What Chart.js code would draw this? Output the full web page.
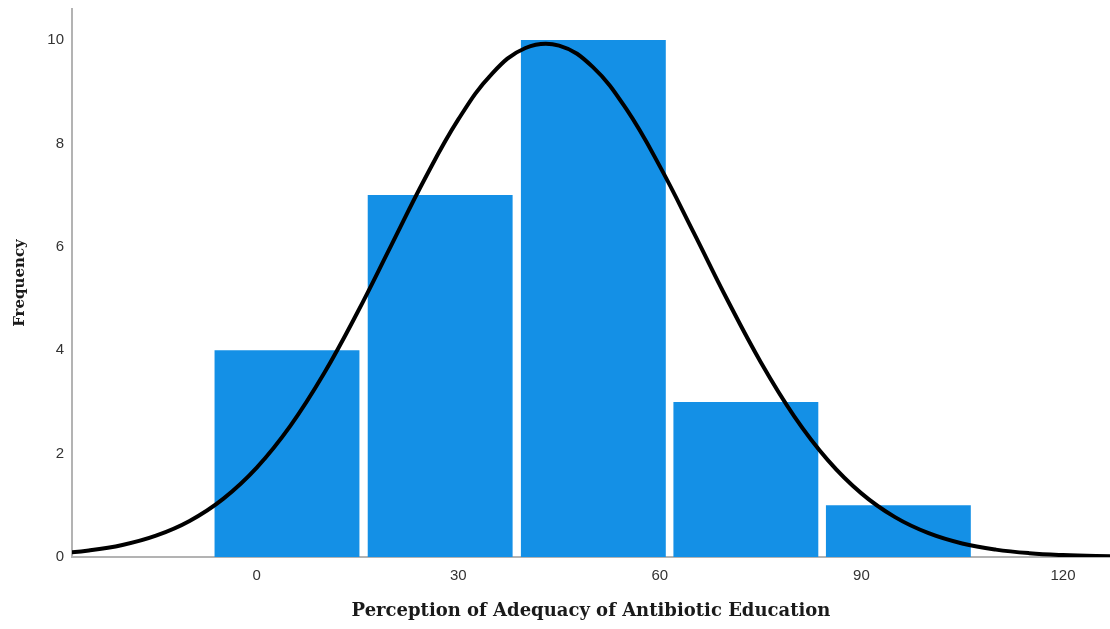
<!DOCTYPE html>
<html>
<head>
<meta charset="utf-8">
<script src="https://cdn.jsdelivr.net/npm/chart.js@4/dist/chart.umd.min.js"></script>
<style>
html,body{margin:0;padding:0;background:#fff;}
#wrap{width:1110px;height:629px;position:relative;}
</style>
</head>
<body>
<div id="wrap"><canvas id="c"></canvas></div>
<script>
// Histogram bins (centres) and counts
const binCenters = [4.5, 27.3, 50.1, 72.8, 95.5];
const frequencies = [4, 7, 10, 3, 1];

// Normal curve
const curveX = [-30, -25, -20, -15, -10, -5, 0, 5, 10, 15, 20, 25, 30, 35, 40, 45, 50, 55, 60, 65, 70, 75, 80, 85, 90, 95, 100, 105, 110, 115, 120, 125, 130];
const curveY = [0.064, 0.126, 0.233, 0.413, 0.698, 1.125, 1.729, 2.536, 3.548, 4.734, 6.023, 7.311, 8.464, 9.347, 9.846, 9.893, 9.480, 8.666, 7.556, 6.285, 4.986, 3.773, 2.722, 1.875, 1.231, 0.771, 0.461, 0.262, 0.143, 0.074, 0.037, 0.017, 0.008];

// Tick labels
const xTicks = [0, 30, 60, 90, 120];
const yTicks = [0, 2, 4, 6, 8, 10];

const xTitle = 'Perception of Adequacy of Antibiotic Education';
const yTitle = 'Frequency';

const barData = binCenters.map((x, i) => ({x: x, y: frequencies[i]}));
const curveData = curveX.map((x, i) => ({x: x, y: curveY[i]}));

new Chart(document.getElementById('c'), {
  type: 'bar',
  data: {
    datasets: [
      {
        type: 'line',
        data: curveData,
        borderColor: '#000000',
        borderWidth: 4,
        pointRadius: 0,
        fill: false,
        tension: 0.4,
        order: 0
      },
      {
        type: 'bar',
        data: barData,
        backgroundColor: '#1490e6',
        borderWidth: 0,
        barPercentage: 0.95,
        categoryPercentage: 1.0,
        order: 1
      }
    ]
  },
  options: {
    responsive: true,
    maintainAspectRatio: false,
    animation: false,
    devicePixelRatio: 1,
    events: [],
    layout: {padding: {left: 0, right: 0, top: 9, bottom: 0}},
    plugins: {legend: {display: false}, tooltip: {enabled: false}},
    scales: {
      x: {
        type: 'linear',
        min: -27.5,
        max: 127,
        offset: false,
        grid: {display: false, drawTicks: false},
        border: {display: true, color: '#b3b3b3', width: 2},
        afterBuildTicks: s => { s.ticks = xTicks.map(v => ({value: v})); },
        afterFit: s => { s.height = 72; s.paddingLeft = 0; s.paddingRight = 0; },
        ticks: {
          autoSkip: false,
          maxRotation: 0,
          padding: 10,
          color: '#333333',
          font: {family: 'Liberation Sans', size: 15},
          callback: v => String(v)
        },
        title: {
          display: true,
          text: xTitle,
          color: '#1a1a1a',
          font: {family: 'DejaVu Serif', size: 18, weight: 'bold'},
          padding: {top: 0, bottom: 7}
        }
      },
      y: {
        type: 'linear',
        min: 0,
        max: 10.6,
        grid: {display: false, drawTicks: false},
        border: {display: true, color: '#b3b3b3', width: 2},
        afterBuildTicks: s => { s.ticks = yTicks.map(v => ({value: v})); },
        afterFit: s => { s.width = 72; s.paddingTop = 0; s.paddingBottom = 0; },
        ticks: {
          padding: 8,
          color: '#333333',
          font: {family: 'Liberation Sans', size: 15},
          callback: v => String(v)
        },
        title: {
          display: true,
          text: yTitle,
          color: '#1a1a1a',
          font: {family: 'DejaVu Serif', size: 15, weight: 'bold'},
          padding: {top: 11, bottom: 0}
        }
      }
    }
  }
});
</script>
</body>
</html>
